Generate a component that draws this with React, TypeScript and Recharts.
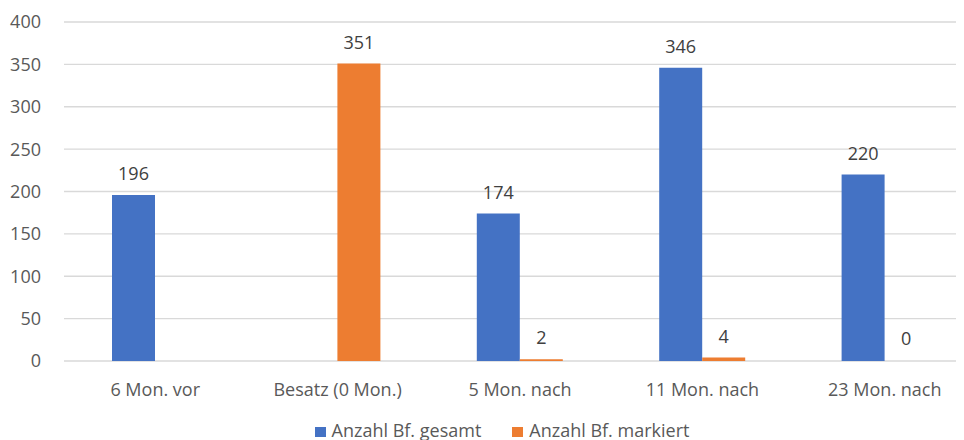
import { BarChart, Bar, XAxis, YAxis, CartesianGrid, Legend, LabelList, Cell } from "recharts";

const categories = ["6 Mon. vor", "Besatz (0 Mon.)", "5 Mon. nach", "11 Mon. nach", "23 Mon. nach"];
const gesamt: (number | null)[] = [196, null, 174, 346, 220];
const markiert: (number | null)[] = [null, 351, 2, 4, 0];
const yTicks = [0, 50, 100, 150, 200, 250, 300, 350, 400];

const rows = categories.map((name, i) => ({ name, gesamt: gesamt[i], markiert: markiert[i] }));

const series = [
  { key: "gesamt", name: "Anzahl Bf. gesamt", color: "#4472c4", values: gesamt },
  { key: "markiert", name: "Anzahl Bf. markiert", color: "#ed7d31", values: markiert },
];

const FONT = "'Open Sans', sans-serif";
const fmtLabel = (v: unknown) => (v === null || v === undefined ? "" : String(v));

function LegendBox() {
  return (
    <div style={{ height: 20, paddingLeft: 28, display: "flex", justifyContent: "center", alignItems: "center", gap: 31, fontFamily: FONT, fontSize: 18, color: "#595959" }}>
      {series.map((s) => (
        <div key={s.key} style={{ display: "flex", alignItems: "center", gap: 6 }}>
          <span style={{ width: 11, height: 10, marginTop: 3, background: s.color, display: "inline-block" }} />
          <span>{s.name}</span>
        </div>
      ))}
    </div>
  );
}

export default function App() {
  return (
    <div style={{ marginLeft: -8, marginTop: -8, width: 964, height: 440, overflow: "hidden", background: "#fff" }}>
      <BarChart
        width={976}
        height={440}
        data={rows}
        margin={{ top: 22, right: 0, bottom: 0, left: 0 }}
        barGap={0}
        barSize={43}
        style={{ fontFamily: FONT }}
      >
        <CartesianGrid vertical={false} stroke="#d9d9d9" strokeWidth={1.3} />
        <XAxis
          dataKey="name"
          axisLine={false}
          tickLine={false}
          tick={{ fontSize: 18, fill: "#595959", fontFamily: FONT }}
          tickMargin={16}
          height={59}
        />
        <YAxis
          domain={[0, 400]}
          ticks={yTicks}
          width={64}
          axisLine={false}
          tickLine={false}
          tickMargin={17}
          tick={{ fontSize: 18, fill: "#595959", fontFamily: FONT }}
          interval={0}
        />
        <Legend verticalAlign="bottom" content={() => <LegendBox />} wrapperStyle={{ height: 20 }} />
        {series.map((s) => (
          <Bar
            key={s.key}
            dataKey={s.key}
            name={s.name}
            fill={s.color}
            minPointSize={1}
            isAnimationActive={false}
          >
            {s.values.map((v, i) => (
              <Cell key={i} fill={v === 0 ? "transparent" : s.color} />
            ))}
            <LabelList
              dataKey={s.key}
              position="top"
              offset={15}
              formatter={fmtLabel}
              style={{ fontSize: 18, fill: "#404040", fontFamily: FONT }}
            />
          </Bar>
        ))}
      </BarChart>
    </div>
  );
}
